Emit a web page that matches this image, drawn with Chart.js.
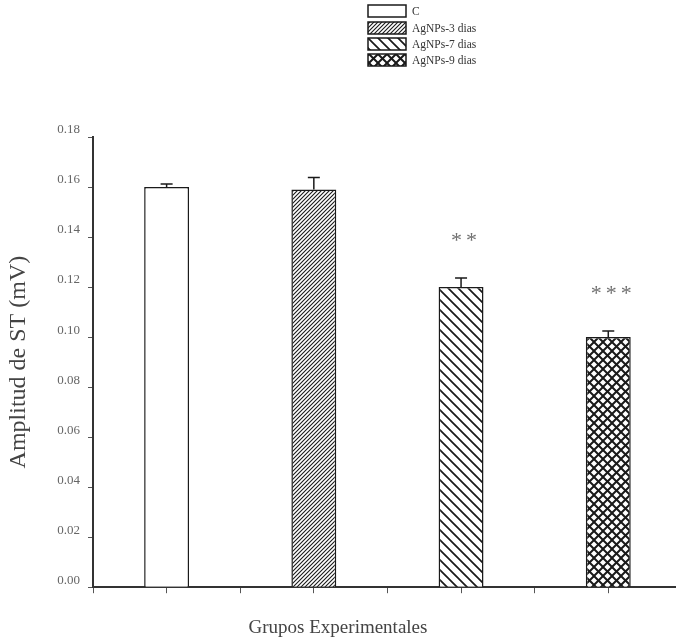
<!DOCTYPE html>
<html>
<head>
<meta charset="utf-8">
<script src="https://cdn.jsdelivr.net/npm/chart.js@4.4.1/dist/chart.umd.min.js"></script>
<style>
  html, body { margin: 0; padding: 0; background: #ffffff; }
  #wrap { width: 676px; height: 644px; position: relative; }
</style>
</head>
<body>
<div id="wrap"><canvas id="c"></canvas></div>
<script>
// ---- data ----
const categories = ['C', 'AgNPs-3 dias', 'AgNPs-7 dias', 'AgNPs-9 dias'];
const means = [0.160, 0.159, 0.120, 0.100];
const sems = [0.0012, 0.0048, 0.0036, 0.0024];
const significance = ['', '', '**', '***'];
const patternTypes = ['none', 'denseForward', 'back', 'cross'];
const yTickStep = 0.02;
const yMax = 0.18;
const xTitle = 'Grupos Experimentales';
const yTitle = 'Amplitud de ST (mV)';

const SERIF = "'Liberation Serif', 'DejaVu Serif', serif";

function makePattern(type) {
  if (type === 'none') return '#ffffff';
  const size = type === 'denseForward' ? 4 : (type === 'back' ? 10 : 9);
  const cv = document.createElement('canvas');
  cv.width = size; cv.height = size;
  const g = cv.getContext('2d');
  g.fillStyle = '#ffffff';
  g.fillRect(0, 0, size, size);
  g.strokeStyle = '#1a1a1a';
  g.lineCap = 'square';
  const fwd = () => {
    g.beginPath();
    g.moveTo(-1, size + 1); g.lineTo(size + 1, -1);
    g.moveTo(-1 - size, size + 1); g.lineTo(1, -1);
    g.moveTo(size - 1, size + 1); g.lineTo(2 * size + 1, -1);
    g.stroke();
  };
  const back = () => {
    g.beginPath();
    g.moveTo(-1, -1); g.lineTo(size + 1, size + 1);
    g.moveTo(-1 - size, -1); g.lineTo(1, size + 1);
    g.moveTo(size - 1, -1); g.lineTo(2 * size + 1, size + 1);
    g.stroke();
  };
  if (type === 'denseForward') { g.lineWidth = 1.1; fwd(); }
  else if (type === 'back') { g.lineWidth = 1.7; back(); }
  else if (type === 'cross') { g.lineWidth = 2; fwd(); back(); }
  return g.createPattern(cv, 'repeat');
}

const patterns = patternTypes.map(makePattern);

const datasets = categories.map((label, i) => ({
  label: label,
  data: [{ x: i + 1, y: means[i] }],
  backgroundColor: patterns[i],
  borderColor: '#1a1a1a',
  borderWidth: 1.5,
  borderSkipped: 'bottom',
  grouped: false,
  barPercentage: 0.61,
  categoryPercentage: 1
}));

const errorBarPlugin = {
  id: 'errorBars',
  afterDatasetsDraw(chart) {
    const ctx = chart.ctx;
    const yScale = chart.scales.y;
    ctx.save();
    ctx.strokeStyle = '#1a1a1a';
    ctx.lineWidth = 1.5;
    chart.data.datasets.forEach((ds, i) => {
      const meta = chart.getDatasetMeta(i);
      const bar = meta.data[0];
      if (!bar) return;
      const yTop = yScale.getPixelForValue(means[i] + sems[i]);
      ctx.beginPath();
      ctx.moveTo(bar.x, bar.y);
      ctx.lineTo(bar.x, yTop);
      ctx.moveTo(bar.x - 6, yTop);
      ctx.lineTo(bar.x + 6, yTop);
      ctx.stroke();
      if (significance[i]) {
        ctx.fillStyle = '#707070';
        ctx.font = '22px ' + SERIF;
        ctx.letterSpacing = '4px';
        ctx.textAlign = 'center';
        ctx.textBaseline = 'middle';
        ctx.fillText(significance[i], bar.x + 5, yTop - 37);
      }
    });
    ctx.restore();
  }
};

const legendPlugin = {
  id: 'stackedLegend',
  afterDraw(chart) {
    const ctx = chart.ctx;
    const boxX = 368, boxW = 38, boxH = 12, textX = 412;
    const rowY = [11, 28, 44, 60];
    ctx.save();
    chart.data.datasets.forEach((ds, i) => {
      const cy = rowY[i];
      ctx.fillStyle = ds.backgroundColor;
      ctx.fillRect(boxX, cy - boxH / 2, boxW, boxH);
      ctx.strokeStyle = '#1a1a1a';
      ctx.lineWidth = 1.5;
      ctx.strokeRect(boxX, cy - boxH / 2, boxW, boxH);
      ctx.fillStyle = '#333333';
      ctx.font = '11.5px ' + SERIF;
      ctx.textAlign = 'left';
      ctx.textBaseline = 'middle';
      ctx.fillText(ds.label, textX, cy + 1);
    });
    ctx.restore();
  }
};

new Chart(document.getElementById('c'), {
  type: 'bar',
  data: { datasets: datasets },
  plugins: [errorBarPlugin, legendPlugin],
  options: {
    responsive: true,
    maintainAspectRatio: false,
    animation: false,
    layout: { padding: { top: 137, left: 0, right: 0, bottom: 0 } },
    plugins: {
      legend: { display: false },
      tooltip: { enabled: false },
      title: {
        display: true,
        position: 'bottom',
        text: xTitle,
        color: '#444444',
        font: { family: SERIF, size: 19, weight: 'normal' },
        padding: { top: 0, bottom: 5 }
      }
    },
    scales: {
      x: {
        type: 'linear',
        offset: false,
        min: 0.5,
        max: 4.46,
        ticks: { stepSize: 0.5, display: false },
        afterBuildTicks: (scale) => { scale.ticks = scale.ticks.filter(t => t.value <= 4.001); },
        afterFit: (scale) => { scale.height = 29; },
        grid: { display: true, offset: false, drawOnChartArea: false, drawTicks: true, tickLength: 6, color: '#555555', lineWidth: 1 },
        border: { display: true, color: '#333333', width: 2 }
      },
      y: {
        min: 0,
        max: yMax,
        ticks: {
          stepSize: yTickStep,
          color: '#666666',
          font: { family: SERIF, size: 13 },
          padding: 8,
          labelOffset: -7,
          callback: (v) => Number(v).toFixed(2)
        },
        afterFit: (scale) => { scale.width = 93; },
        grid: { display: true, drawOnChartArea: false, drawTicks: true, tickLength: 5, color: '#555555', lineWidth: 1 },
        border: { display: true, color: '#333333', width: 2 },
        title: {
          display: true,
          text: yTitle,
          color: '#444444',
          font: { family: SERIF, size: 24 },
          padding: 4
        }
      }
    }
  }
});
</script>
</body>
</html>
